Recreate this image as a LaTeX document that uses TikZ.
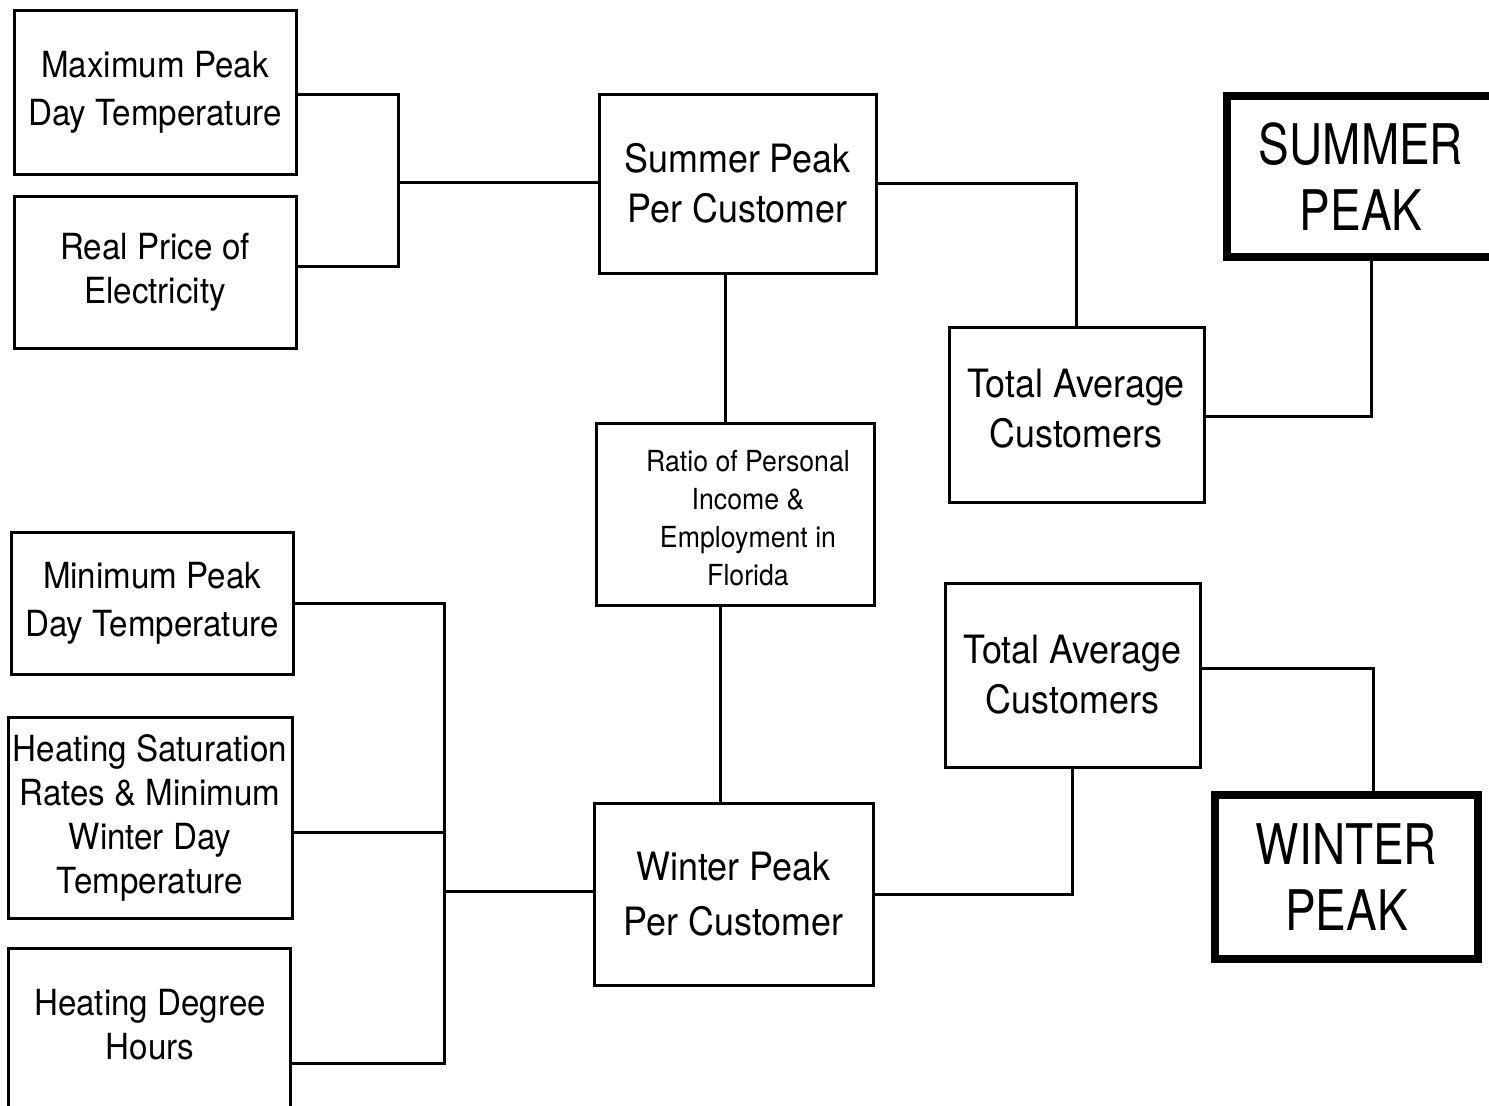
\documentclass[tikz,border=0pt]{standalone}
\usepackage{fontspec}
\setmainfont[FakeStretch=0.92]{TeX Gyre Heros}
\newfontfamily\headfont[FakeStretch=0.82]{TeX Gyre Heros}
\tikzset{
  box/.style={draw, line width=3pt, inner sep=0pt, align=center},
  bigbox/.style={draw, line width=8pt, inner sep=0pt, align=center,
    font=\headfont\fontsize{56}{66}\selectfont},
  wire/.style={line width=3pt},
  fa/.style={font=\fontsize{36}{48}\selectfont},
  fb/.style={font=\fontsize{36}{44}\selectfont},
  fc/.style={font=\fontsize{39}{50}\selectfont},
  fd/.style={font=\fontsize{29}{38}\selectfont},
}
\begin{document}
\begin{tikzpicture}[x=1pt,y=-1pt]
\useasboundingbox (0,0) rectangle (1489,1106);
\clip (0,0) rectangle (1489,1106);

% input variables, summer side
\node[box, fa, minimum width=282pt, minimum height=164pt] (maxT) at (155,92)
  {Maximum Peak\\Day Temperature};
\node[box, fb, minimum width=282pt, minimum height=152pt] (realP) at (155,272)
  {Real Price of\\Electricity};

% per-customer models and the shared economic driver
\node[box, fc, minimum width=277pt, minimum height=179pt] (sumPC) at (737.5,183.5)
  {Summer Peak\\Per Customer};
\node[box, minimum width=278pt, minimum height=182pt] (ratio) at (735,514) {};
\node[fd, align=center] (ratioText) at (748,518)
  {Ratio of Personal\\Income \&\\Employment in\\Florida};
\node[box, font=\fontsize{39}{55}\selectfont, minimum width=279pt, minimum height=182pt] (winPC) at (733.5,894)
  {Winter Peak\\Per Customer};

% customer counts
\node[box, minimum width=255pt, minimum height=175pt] (tacU) at (1076.5,414.5) {};
\node[fc, align=center] (tacUText) at (1076,409) {Total Average\\Customers};
\node[box, fc, minimum width=255pt, minimum height=184pt] (tacL) at (1072.5,675)
  {Total Average\\Customers};

% system peaks
\node[bigbox, minimum width=268pt, minimum height=161pt] (sumPeak) at (1361,176.5)
  {SUMMER\\PEAK};
\node[bigbox, minimum width=263pt, minimum height=164pt] (winPeak) at (1346.5,877)
  {WINTER\\PEAK};

% input variables, winter side
\node[box, fa, minimum width=282pt, minimum height=142pt] (minT) at (152,603)
  {Minimum Peak\\Day Temperature};
\node[box, fb, minimum width=284pt, minimum height=201pt] (heatS) at (150,817.5)
  {Heating Saturation\\Rates \& Minimum\\Winter Day\\Temperature};
\node[box, minimum width=282pt, minimum height=167pt] (heatD) at (149,1031.5) {};
\node[fb, align=center] (heatDText) at (150,1025) {Heating Degree\\Hours};

% summer inputs bus
\coordinate (busA) at (398,182);
\draw[wire] ([yshift=-2pt]maxT.east) -| (busA) |- ([yshift=6pt]realP.east);
\draw[wire] (busA) -- (busA -| sumPC.west);

% summer chain
\draw[wire] (sumPC.east) -| (tacU.north);
\coordinate (spIn) at ([xshift=10pt]sumPeak.south);
\draw[wire] ([yshift=-1.5pt]tacU.east) -| (spIn);

% vertical links through the ratio box
\coordinate (ratioTop) at ([xshift=-10pt]ratio.north);
\draw[wire] (ratioTop |- sumPC.south) -- (ratioTop);
\coordinate (winTop) at ([xshift=-13pt]winPC.north);
\draw[wire] (winTop |- ratio.south) -- (winTop);

% winter inputs bus
\coordinate (busB) at (444,891);
\coordinate (hsOut) at ([yshift=-15pt]heatS.east);
\coordinate (hdOut) at ([yshift=-32pt]heatD.east);
\draw[wire] (minT.east) -| (busB) |- (hdOut);
\draw[wire] (hsOut) -- (hsOut -| busB);
\draw[wire] (busB) -- (busB -| winPC.west);

% winter chain
\draw[wire] (winPC.east) -| (tacL.south);
\coordinate (wpIn) at ([xshift=27pt]winPeak.north);
\draw[wire] ([yshift=7pt]tacL.east) -| (wpIn);
\end{tikzpicture}
\end{document}
